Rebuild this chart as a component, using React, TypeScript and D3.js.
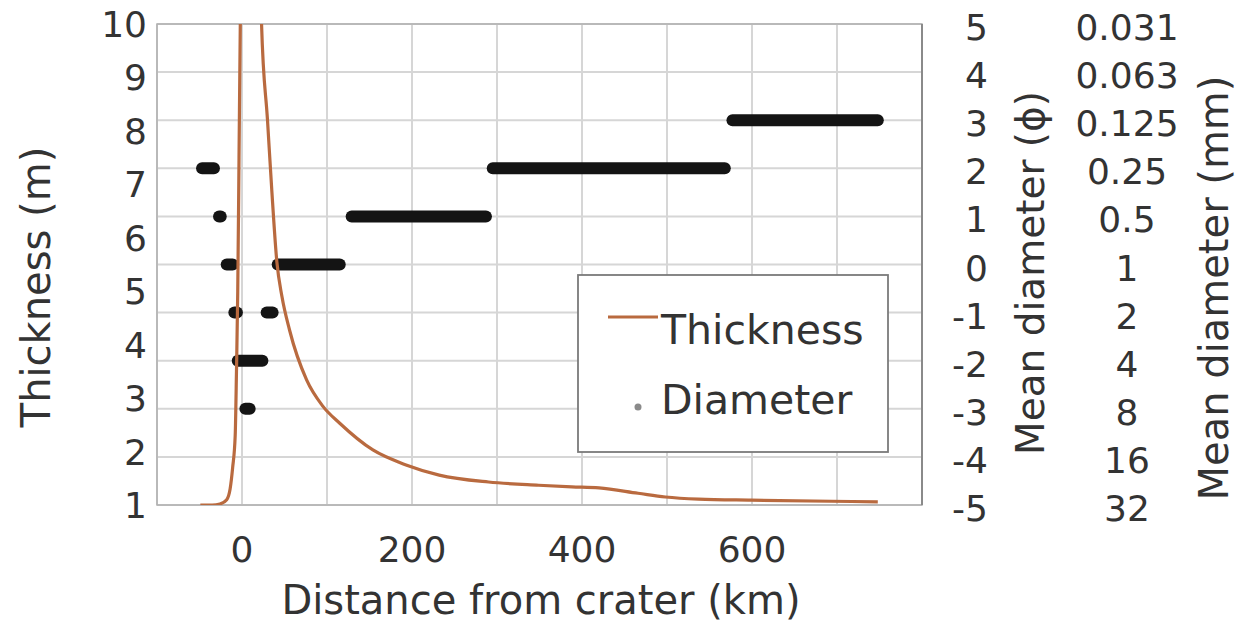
import { useEffect, useRef } from "react";
import * as d3 from "d3";

// thickness profile (km from crater, m)
const distanceKm = [
  -49, -35, -26, -18, -14, -11, -8, -6.5, -5, -3.5, -2, -1, 22, 23, 30, 35, 41,
  47, 56, 76, 95, 115, 154, 193, 232, 290, 349, 388, 420, 466, 498, 537, 599,
  693, 748,
];
const thicknessM = [
  1.0, 1.0, 1.02, 1.1, 1.3, 1.7, 2.3, 3.5, 5.0, 7.5, 10, 11, 11, 10, 8.2, 6.9,
  5.55, 4.9, 4.27, 3.34, 2.85, 2.53, 2.03, 1.75, 1.56, 1.43, 1.37, 1.34, 1.32,
  1.22, 1.15, 1.11, 1.09, 1.07, 1.06,
];

// mean diameter samples, drawn as runs of dots (phi, from km, to km)
const diamPhi = [2, 1, 0, -1, -2, -3, 0, -1, 1, 2, 3];
const diamFromKm = [-47, -27, -18, -9, -5, 4, 42, 29, 129, 295, 577];
const diamToKm = [-33, -25, -11, -6, 24, 9, 115, 36, 287, 568, 748];

const xTicks = [0, 200, 400, 600];
const thickTicks = [1, 2, 3, 4, 5, 6, 7, 8, 9, 10];
const phiTicks = [5, 4, 3, 2, 1, 0, -1, -2, -3, -4, -5];
const mmTicks = ["0.031", "0.063", "0.125", "0.25", "0.5", "1", "2", "4", "8", "16", "32"];

const W = 1237;
const H = 632;
const FONT = "DejaVu Sans";
const TXT = "#333";
const ORANGE = "#b96a3f";

export default function App() {
  const svgRef = useRef<SVGSVGElement | null>(null);

  useEffect(() => {
    if (!svgRef.current) return;
    const svg = d3.select(svgRef.current);
    svg.selectAll("*").remove();

    const left = 157,
      right = 922,
      top = 24,
      bottom = 505;

    const x = d3.scaleLinear().domain([-100, 800]).range([left, right]);
    const yT = d3.scaleLinear().domain([1, 10]).range([bottom, top]);
    const yP = d3.scaleLinear().domain([-5, 5]).range([bottom, top]);

    svg.append("rect").attr("width", W).attr("height", H).attr("fill", "#fff");

    svg
      .append("defs")
      .append("clipPath")
      .attr("id", "plotclip")
      .append("rect")
      .attr("x", left)
      .attr("y", top)
      .attr("width", right - left)
      .attr("height", bottom - top);

    // grid
    const grid = svg.append("g").attr("stroke", "#d6d6d6").attr("stroke-width", 2);
    grid
      .selectAll("line.v")
      .data(x.ticks(9))
      .enter()
      .append("line")
      .attr("x1", (d) => x(d))
      .attr("x2", (d) => x(d))
      .attr("y1", top)
      .attr("y2", bottom);
    grid
      .selectAll("line.h")
      .data(yP.ticks(10))
      .enter()
      .append("line")
      .attr("x1", left)
      .attr("x2", right)
      .attr("y1", (d) => yP(d))
      .attr("y2", (d) => yP(d));

    // frame
    svg
      .append("rect")
      .attr("x", left)
      .attr("y", top)
      .attr("width", right - left)
      .attr("height", bottom - top)
      .attr("fill", "none")
      .attr("stroke", "#b0b0b0")
      .attr("stroke-width", 1.5);
    svg
      .append("line")
      .attr("x1", right)
      .attr("x2", right)
      .attr("y1", top)
      .attr("y2", bottom)
      .attr("stroke", "#8a8a8a")
      .attr("stroke-width", 2);

    const plot = svg.append("g").attr("clip-path", "url(#plotclip)");

    // diameter dots
    const runs = diamPhi.map((p, i) => ({ phi: p, a: diamFromKm[i], b: diamToKm[i] }));
    plot
      .selectAll("line.dot")
      .data(runs)
      .enter()
      .append("line")
      .attr("x1", (d) => x(d.a))
      .attr("x2", (d) => x(d.b))
      .attr("y1", (d) => yP(d.phi))
      .attr("y2", (d) => yP(d.phi))
      .attr("stroke", "#141414")
      .attr("stroke-width", 12)
      .attr("stroke-linecap", "round");

    // thickness curve
    const pts = distanceKm.map((d, i) => [d, thicknessM[i]] as [number, number]);
    const line = d3
      .line<[number, number]>()
      .x((d) => x(d[0]))
      .y((d) => yT(d[1]))
      .curve(d3.curveMonotoneX);
    plot
      .append("path")
      .attr("d", line(pts) as string)
      .attr("fill", "none")
      .attr("stroke", ORANGE)
      .attr("stroke-width", 3.2)
      .attr("stroke-linejoin", "round");

    const text = (g: d3.Selection<any, any, any, any>) =>
      g.attr("font-family", FONT).attr("fill", TXT);

    // left axis labels
    text(svg.append("g"))
      .attr("font-size", 36)
      .attr("text-anchor", "end")
      .selectAll("text")
      .data(thickTicks)
      .enter()
      .append("text")
      .attr("x", left - 10)
      .attr("y", (d) => yT(d) + 13)
      .text((d) => d);

    // x axis labels
    text(svg.append("g"))
      .attr("font-size", 36)
      .attr("text-anchor", "middle")
      .selectAll("text")
      .data(xTicks)
      .enter()
      .append("text")
      .attr("x", (d) => x(d))
      .attr("y", 562)
      .text((d) => d);

    // phi labels
    text(svg.append("g"))
      .attr("font-size", 36)
      .attr("text-anchor", "end")
      .selectAll("text")
      .data(phiTicks)
      .enter()
      .append("text")
      .attr("x", 988)
      .attr("y", (d) => yP(d) + 16)
      .text((d) => d);

    // mm labels
    text(svg.append("g"))
      .attr("font-size", 36)
      .attr("text-anchor", "middle")
      .selectAll("text")
      .data(mmTicks)
      .enter()
      .append("text")
      .attr("x", 1127)
      .attr("y", (_d, i) => yP(phiTicks[i]) + 16)
      .text((d) => d);

    // axis titles
    text(svg.append("text"))
      .attr("font-size", 40)
      .attr("text-anchor", "middle")
      .attr("x", 541)
      .attr("y", 614)
      .text("Distance from crater (km)");
    text(svg.append("text"))
      .attr("font-size", 40)
      .attr("text-anchor", "middle")
      .attr("transform", "translate(50,287) rotate(-90)")
      .text("Thickness (m)");
    text(svg.append("text"))
      .attr("font-size", 39)
      .attr("text-anchor", "middle")
      .attr("transform", "translate(1044,273) rotate(-90)")
      .text("Mean diameter (\u03d5)");
    text(svg.append("text"))
      .attr("font-size", 40)
      .attr("text-anchor", "middle")
      .attr("transform", "translate(1228,288) rotate(-90)")
      .text("Mean diameter (mm)");

    // legend
    const lg = svg.append("g");
    lg.append("rect")
      .attr("x", 578)
      .attr("y", 275)
      .attr("width", 310)
      .attr("height", 177)
      .attr("fill", "#fff")
      .attr("stroke", "#7a7a7a")
      .attr("stroke-width", 1.8);
    lg.append("line")
      .attr("x1", 608)
      .attr("x2", 658)
      .attr("y1", 317)
      .attr("y2", 317)
      .attr("stroke", ORANGE)
      .attr("stroke-width", 3.2);
    text(lg.append("text"))
      .attr("font-size", 41)
      .attr("x", 661)
      .attr("y", 344)
      .text("Thickness");
    lg.append("circle").attr("cx", 638).attr("cy", 407).attr("r", 3.5).attr("fill", "#8a8a8a");
    text(lg.append("text"))
      .attr("font-size", 41)
      .attr("x", 661)
      .attr("y", 414)
      .text("Diameter");
  }, []);

  return (
    <svg
      ref={svgRef}
      width={W}
      height={H}
      style={{ position: "absolute", left: 0, top: 0, display: "block" }}
    ></svg>
  );
}
